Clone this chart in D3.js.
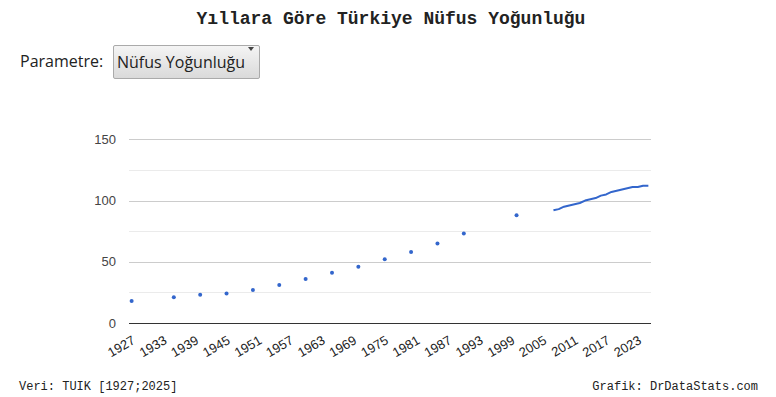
<!DOCTYPE html>
<meta charset="utf-8">
<title>Yıllara Göre Türkiye Nüfus Yoğunluğu</title>
<style>

body {
  margin: 0;
  background: #fff;
}
#sayfa {
  position: relative;
  width: 776px;
  height: 397px;
  overflow: hidden;
}
.baslik {
  position: absolute;
  left: 0;
  top: 9px;
  width: 782px;
  text-align: center;
  font: bold 18px "Liberation Mono", monospace;
  color: #222;
}
.etiket {
  position: absolute;
  left: 20px;
  top: 50px;
  font: 16px "Open Sans", sans-serif;
  color: #222;
}
.secim {
  position: absolute;
  left: 113px;
  top: 45px;
  width: 147px;
  height: 34px;
  box-sizing: border-box;
  border: 1px solid #aaa;
  border-radius: 2px;
  background: linear-gradient(#f4f4f4, #dadada);
}
.secim select {
  -webkit-appearance: none;
  appearance: none;
  border: none;
  background: transparent;
  font: 16px "Open Sans", sans-serif;
  color: #222;
  padding: 0 0 0 3px;
  margin: 0;
  width: 100%;
  height: 32px;
  outline: none;
}
.secim:after {
  content: "";
  position: absolute;
  left: 134px;
  top: 1px;
  border-left: 3.5px solid transparent;
  border-right: 3.5px solid transparent;
  border-top: 4px solid #444;
}
.dipnot {
  position: absolute;
  top: 380px;
  font: 12px "Liberation Mono", monospace;
  color: #222;
}
.eksen text {
  font: 13px "Liberation Sans", Arial, sans-serif;
}

</style>

<body>
<div id="sayfa">
  <div class="baslik">Yıllara Göre Türkiye Nüfus Yoğunluğu</div>
  <div class="etiket">Parametre:</div>
  <div class="secim">
    <select><option>Nüfus Yoğunluğu</option></select>
  </div>
  <svg width="776" height="397" id="svg" style="position:absolute;left:0;top:0;pointer-events:none"></svg>
  <div class="dipnot" style="left:19px">Veri: TUIK [1927;2025]</div>
  <div class="dipnot" style="right:18px">Grafik: DrDataStats.com</div>
</div>
<script src="https://d3js.org/d3.v7.min.js"></script>
<script>

// sayım yılları (tek tek noktalar)
var sayimYillari = [1927, 1935, 1940, 1945, 1950, 1955, 1960, 1965, 1970, 1975, 1980, 1985, 1990, 2000];
var sayimDegerleri = [18, 21, 23, 24, 27, 31, 36, 41, 46, 52, 58, 65, 73, 88];

// ADNKS yılları (çizgi)
var adnksYillari = [2007, 2008, 2009, 2010, 2011, 2012, 2013, 2014, 2015, 2016,
                    2017, 2018, 2019, 2020, 2021, 2022, 2023, 2024, 2025];
var adnksDegerleri = [92, 93, 95, 96, 97, 98, 100, 101, 102, 104,
                      105, 107, 108, 109, 110, 111, 111, 112, 112];

var xEtiketleri = d3.range(1927, 2024, 6);
var yEtiketleri = [0, 50, 100, 150];
var yAraCizgiler = [25, 75, 125];

var svg = d3.select("svg"),
    sol = 129, sag = 651, ust = 139.3, alt = 323,
    renk = "#3366cc";

var x = d3.scaleLinear().domain([1926.5, 2025.5]).range([sol, sag]);
var y = d3.scaleLinear().domain([0, 150]).range([alt, ust]);

// ara çizgiler (açık)
svg.append("g").selectAll("line")
  .data(yAraCizgiler)
  .enter().append("line")
    .attr("x1", sol).attr("x2", sag)
    .attr("y1", function(d) { return Math.round(y(d)) + 0.5; })
    .attr("y2", function(d) { return Math.round(y(d)) + 0.5; })
    .attr("stroke", "#ebebeb");

// ana çizgiler
svg.append("g").selectAll("line")
  .data(yEtiketleri.filter(function(d) { return d > 0; }))
  .enter().append("line")
    .attr("x1", sol).attr("x2", sag)
    .attr("y1", function(d) { return Math.round(y(d)) + 0.5; })
    .attr("y2", function(d) { return Math.round(y(d)) + 0.5; })
    .attr("stroke", "#cccccc");

// y ekseni
var yEksen = svg.append("g")
    .attr("class", "eksen")
    .attr("transform", "translate(" + sol + ",0)")
    .call(d3.axisLeft(y).tickValues(yEtiketleri).tickSize(0).tickPadding(13));
yEksen.select(".domain").remove();
yEksen.selectAll("text").attr("fill", "#444");

// x ekseni
var xEksen = svg.append("g")
    .attr("class", "eksen")
    .attr("transform", "translate(0," + alt + ")")
    .call(d3.axisBottom(x).tickValues(xEtiketleri).tickSize(0).tickFormat(d3.format("d")));
xEksen.select(".domain").remove();
xEksen.selectAll("text")
    .attr("y", 0)
    .attr("dy", 0)
    .attr("fill", "#222")
    .attr("transform", "translate(4,20) rotate(-30)")
    .style("text-anchor", "end");

// taban çizgisi
svg.append("line")
    .attr("x1", sol).attr("x2", sag)
    .attr("y1", Math.round(alt) + 0.5).attr("y2", Math.round(alt) + 0.5)
    .attr("stroke", "#333");

// sayım noktaları
svg.append("g").selectAll("circle")
  .data(sayimYillari)
  .enter().append("circle")
    .attr("cx", function(d) { return x(d); })
    .attr("cy", function(d, i) { return y(sayimDegerleri[i]); })
    .attr("r", 2)
    .attr("fill", renk);

// ADNKS çizgisi
var cizgi = d3.line()
    .x(function(d) { return x(d); })
    .y(function(d, i) { return y(adnksDegerleri[i]); });

svg.append("path")
    .datum(adnksYillari)
    .attr("d", cizgi)
    .attr("fill", "none")
    .attr("stroke", renk)
    .attr("stroke-width", 2)
    .attr("stroke-linejoin", "round");

</script>
</body>
